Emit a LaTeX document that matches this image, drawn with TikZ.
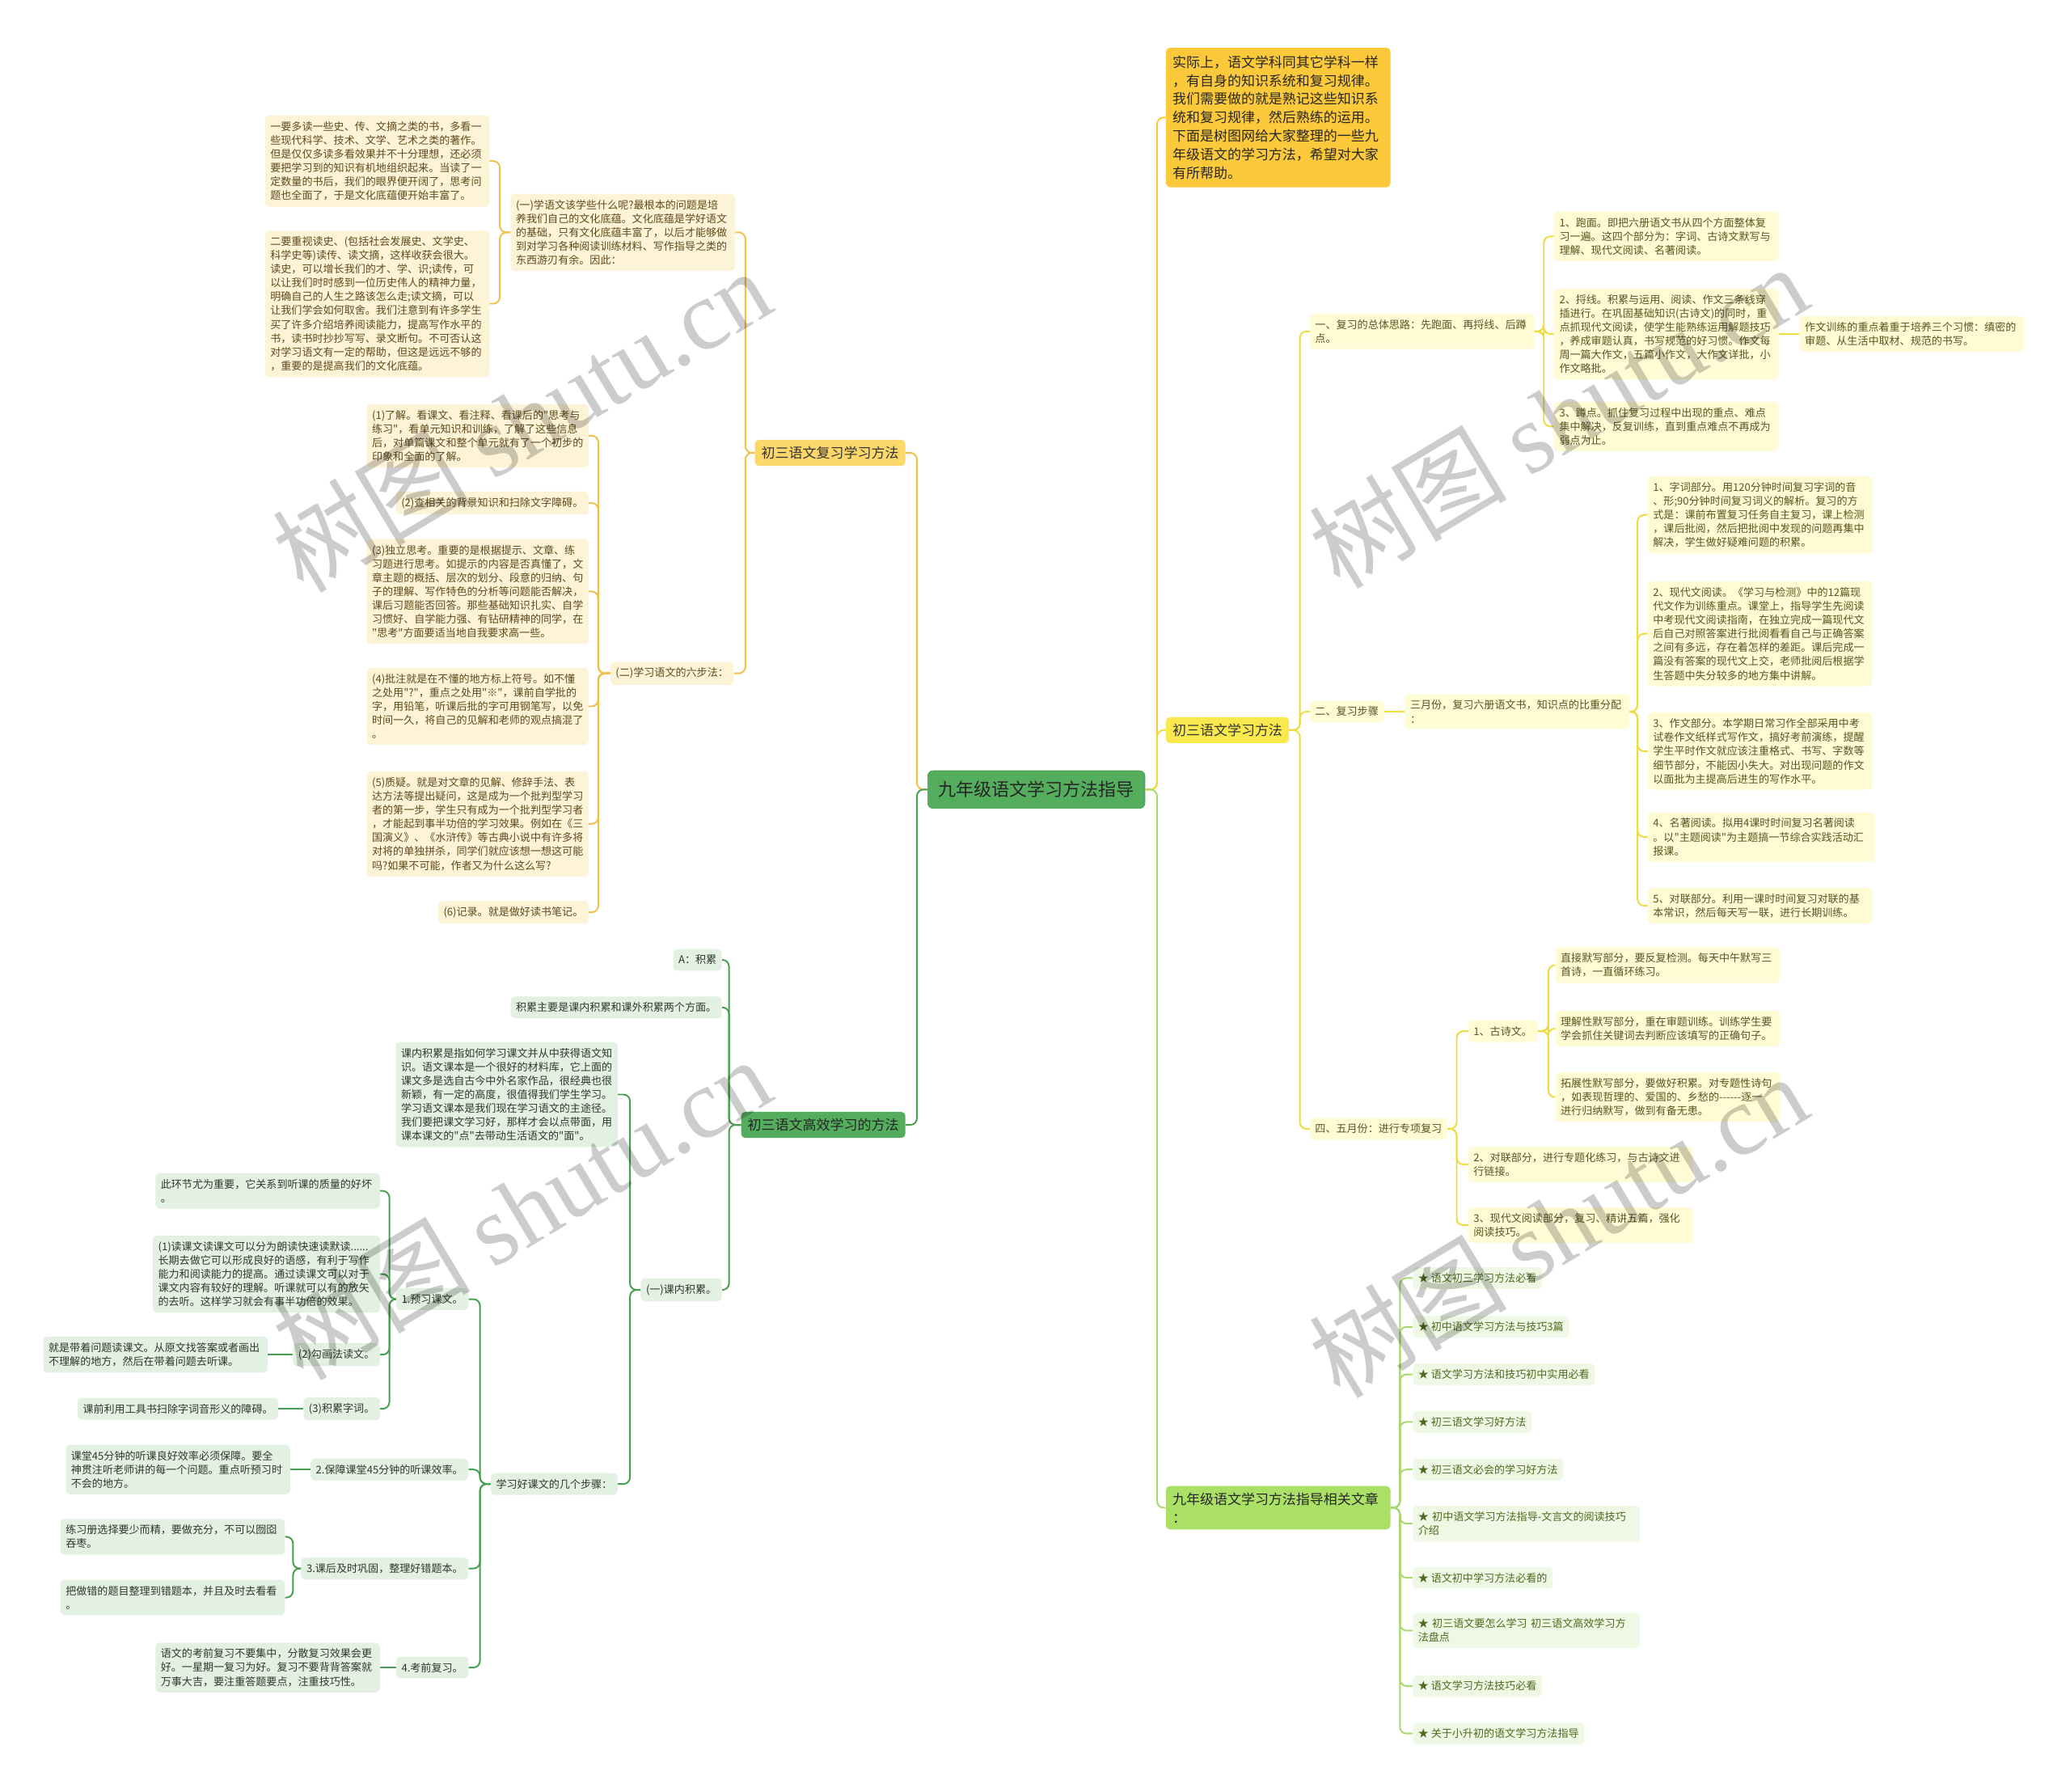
\documentclass[tikz,border=0pt]{standalone}
\usepackage{fontspec}
\setmainfont{Noto Sans CJK SC}[Ligatures=TeXOff]
\newfontfamily\wmser{Liberation Serif}
\definecolor{cGold}{HTML}{F0C04A}
\definecolor{cGoldN}{HTML}{FCD76A}
\definecolor{cCream}{HTML}{FDF3D6}
\definecolor{cBrown}{HTML}{5E4A1C}
\definecolor{cGreen}{HTML}{53AD5D}
\definecolor{cGreenL}{HTML}{479F50}
\definecolor{cMint}{HTML}{E2F1E2}
\definecolor{cDark}{HTML}{2C3A2C}
\definecolor{cYel}{HTML}{F9E84E}
\definecolor{cYelL}{HTML}{EEDC3C}
\definecolor{cLemon}{HTML}{FFFBD4}
\definecolor{cOlive}{HTML}{5B5320}
\definecolor{cOrange}{HTML}{FCC93A}
\definecolor{cLime}{HTML}{A9E065}
\definecolor{cLimeL}{HTML}{A8D870}
\definecolor{cPale}{HTML}{EEF8E4}
\definecolor{cLeaf}{HTML}{4B6A1E}
\newcommand\lkL[4]{\draw[#1] (#2.west) -- ++(-#4,0) |- (#3.east);}
\newcommand\lkR[4]{\draw[#1] (#2.east) -- ++(#4,0) |- (#3.west);}
\tikzset{
  leafbase/.style={rounded corners=3pt, inner xsep=4pt, inner ysep=4.5pt, font=\fontsize{8}{10.5}\selectfont, align=left},
  lyel/.style={leafbase, fill=cCream, text=cBrown},
  ryel/.style={leafbase, fill=cLemon, text=cOlive},
  grn/.style={leafbase, fill=cMint, text=cDark},
  lgr/.style={leafbase, fill=cPale, text=cLeaf},
  lvone/.style={rounded corners=3pt, inner xsep=5pt, inner ysep=5pt, font=\fontsize{10.4}{14}\selectfont, align=left},
  conn/.style={line width=1.2pt, rounded corners=5pt},
  cgold/.style={conn, draw=cGold},
  cgrn/.style={conn, draw=cGreenL},
  cyel/.style={conn, draw=cYelL},
  clime/.style={conn, draw=cLimeL},
  corg/.style={conn, draw=cOrange},
  wm/.style={text=black, text opacity=0.2, font=\fontsize{75}{75}\selectfont, rotate=31}
}
\begin{document}
\begin{tikzpicture}[x=1pt,y=-1pt]
\useasboundingbox[fill=white] (0,0) rectangle (1568,1357);

% ---------- root ----------
\node[rounded corners=4pt, fill=cGreen, draw=cGreenL, text=black!85, inner xsep=8pt, inner ysep=8pt, font=\fontsize{13.5}{16}\selectfont] (root) at (785,598) {九年级语文学习方法指导};

% ---------- left: 初三语文复习学习方法 ----------
\node[lvone, fill=cGoldN, text=black!80, anchor=east] (n1) at (686,343) {初三语文复习学习方法};
\node[lyel, anchor=east, text width=162pt] (a1) at (557,176) {(一)学语文该学些什么呢?最根本的问题是培\\养我们自己的文化底蕴。文化底蕴是学好语文\\的基础，只有文化底蕴丰富了，以后才能够做\\到对学习各种阅读训练材料、写作指导之类的\\东西游刃有余。因此：};
\node[lyel, anchor=east, text width=162pt] (a11) at (371,122) {一要多读一些史、传、文摘之类的书，多看一\\些现代科学、技术、文学、艺术之类的著作。\\但是仅仅多读多看效果并不十分理想，还必须\\要把学习到的知识有机地组织起来。当读了一\\定数量的书后，我们的眼界便开阔了，思考问\\题也全面了，于是文化底蕴便开始丰富了。};
\node[lyel, anchor=east, text width=162pt] (a12) at (371,230) {二要重视读史、(包括社会发展史、文学史、\\科学史等)读传、读文摘，这样收获会很大。\\读史，可以增长我们的才、学、识;读传，可\\以让我们时时感到一位历史伟人的精神力量，\\明确自己的人生之路该怎么走;读文摘，可以\\让我们学会如何取舍。我们注意到有许多学生\\买了许多介绍培养阅读能力，提高写作水平的\\书，读书时抄抄写写、录文断句。不可否认这\\对学习语文有一定的帮助，但这是远远不够的\\，重要的是提高我们的文化底蕴。};
\node[lyel, anchor=east] (a2) at (556,510) {(二)学习语文的六步法：};
\node[lyel, anchor=east, text width=160pt] (s1) at (446,330) {(1)了解。看课文、看注释、看课后的"思考与\\练习"，看单元知识和训练，了解了这些信息\\后，对单篇课文和整个单元就有了一个初步的\\印象和全面的了解。};
\node[lyel, anchor=east] (s2) at (446,381) {(2)查相关的背景知识和扫除文字障碍。};
\node[lyel, anchor=east, text width=160pt] (s3) at (446,448) {(3)独立思考。重要的是根据提示、文章、练\\习题进行思考。如提示的内容是否真懂了，文\\章主题的概括、层次的划分、段意的归纳、句\\子的理解、写作特色的分析等问题能否解决，\\课后习题能否回答。那些基础知识扎实、自学\\习惯好、自学能力强、有钻研精神的同学，在\\"思考"方面要适当地自我要求高一些。};
\node[lyel, anchor=east, text width=160pt] (s4) at (446,535) {(4)批注就是在不懂的地方标上符号。如不懂\\之处用"?"，重点之处用"※"，课前自学批的\\字，用铅笔，听课后批的字可用钢笔写，以免\\时间一久，将自己的见解和老师的观点搞混了\\。};
\node[lyel, anchor=east, text width=160pt] (s5) at (446,624) {(5)质疑。就是对文章的见解、修辞手法、表\\达方法等提出疑问，这是成为一个批判型学习\\者的第一步，学生只有成为一个批判型学习者\\，才能起到事半功倍的学习效果。例如在《三\\国演义》、《水浒传》等古典小说中有许多将\\对将的单独拼杀，同学们就应该想一想这可能\\吗?如果不可能，作者又为什么这么写?};
\node[lyel, anchor=east] (s6) at (446,691) {(6)记录。就是做好读书笔记。};

% ---------- left: 初三语文高效学习的方法 ----------
\node[lvone, fill=cGreen, text=black!85, anchor=east] (n2) at (686,852) {初三语文高效学习的方法};
\node[grn, anchor=east] (g1) at (547,727) {A：积累};
\node[grn, anchor=east] (g2) at (547,763) {积累主要是课内积累和课外积累两个方面。};
\node[grn, anchor=east] (g3) at (547,977) {(一)课内积累。};
\node[grn, anchor=east, text width=160pt] (g31) at (468,829) {课内积累是指如何学习课文并从中获得语文知\\识。语文课本是一个很好的材料库，它上面的\\课文多是选自古今中外名家作品，很经典也很\\新颖，有一定的高度，很值得我们学生学习。\\学习语文课本是我们现在学习语文的主途径。\\我们要把课文学习好，那样才会以点带面，用\\课本课文的"点"去带动生活语文的"面"。};
\node[grn, anchor=east] (g32) at (468,1124) {学习好课文的几个步骤：};
\node[grn, anchor=east] (h1) at (355,984) {1.预习课文。};
\node[grn, anchor=east, text width=162pt] (h11) at (288,902) {此环节尤为重要，它关系到听课的质量的好坏\\。};
\node[grn, anchor=east, text width=164pt] (h12) at (288,965) {(1)读课文读课文可以分为朗读快速读默读......\\长期去做它可以形成良好的语感，有利于写作\\能力和阅读能力的提高。通过读课文可以对于\\课文内容有较好的理解。听课就可以有的放矢\\的去听。这样学习就会有事半功倍的效果。};
\node[grn, anchor=east] (h13) at (288,1026) {(2)勾画法读文。};
\node[grn, anchor=east, text width=162pt] (h131) at (203,1026) {就是带着问题读课文。从原文找答案或者画出\\不理解的地方，然后在带着问题去听课。};
\node[grn, anchor=east] (h14) at (288,1067) {(3)积累字词。};
\node[grn, anchor=east] (h141) at (211,1067) {课前利用工具书扫除字词音形义的障碍。};
\node[grn, anchor=east] (h2) at (355,1113) {2.保障课堂45分钟的听课效率。};
\node[grn, anchor=east, text width=162pt] (h21) at (220,1113) {课堂45分钟的听课良好效率必须保障。要全\\神贯注听老师讲的每一个问题。重点听预习时\\不会的地方。};
\node[grn, anchor=east] (h3) at (355,1188) {3.课后及时巩固，整理好错题本。};
\node[grn, anchor=east, text width=162pt] (h31) at (216,1164) {练习册选择要少而精，要做充分，不可以囫囵\\吞枣。};
\node[grn, anchor=east, text width=162pt] (h32) at (216,1210) {把做错的题目整理到错题本，并且及时去看看\\。};
\node[grn, anchor=east] (h4) at (355,1263) {4.考前复习。};
\node[grn, anchor=east, text width=162pt] (h41) at (288,1263) {语文的考前复习不要集中，分散复习效果会更\\好。一星期一复习为好。复习不要背背答案就\\万事大吉，要注重答题要点，注重技巧性。};

% ---------- right ----------
\node[lvone, fill=cOrange, text=black!85, anchor=west, text width=160pt, inner ysep=6pt] (r0) at (883,89) {实际上，语文学科同其它学科一样\\，有自身的知识系统和复习规律。\\我们需要做的就是熟记这些知识系\\统和复习规律，然后熟练的运用。\\下面是树图网给大家整理的一些九\\年级语文的学习方法，希望对大家\\有所帮助。};
\node[lvone, fill=cYel, text=black!80, anchor=west] (n3) at (883,553) {初三语文学习方法};
\node[ryel, anchor=west, text width=162pt] (b1) at (992,251) {一、复习的总体思路：先跑面、再捋线、后蹲\\点。};
\node[ryel, anchor=west, text width=162pt] (b11) at (1177,179) {1、跑面。即把六册语文书从四个方面整体复\\习一遍。这四个部分为：字词、古诗文默写与\\理解、现代文阅读、名著阅读。};
\node[ryel, anchor=west, text width=162pt] (b12) at (1177,253) {2、捋线。积累与运用、阅读、作文三条线穿\\插进行。在巩固基础知识(古诗文)的同时，重\\点抓现代文阅读，使学生能熟练运用解题技巧\\，养成审题认真，书写规范的好习惯。作文每\\周一篇大作文，五篇小作文，大作文详批，小\\作文略批。};
\node[ryel, anchor=west, text width=162pt] (b121) at (1363,253) {作文训练的重点着重于培养三个习惯：缜密的\\审题、从生活中取材、规范的书写。};
\node[ryel, anchor=west, text width=162pt] (b13) at (1177,323) {3、蹲点。抓住复习过程中出现的重点、难点\\集中解决，反复训练，直到重点难点不再成为\\弱点为止。};
\node[ryel, anchor=west] (b2) at (992,539) {二、复习步骤};
\node[ryel, anchor=west, text width=162pt] (b21) at (1064,539) {三月份，复习六册语文书，知识点的比重分配\\：};
\node[ryel, anchor=west, text width=162pt] (c1) at (1248,390) {1、字词部分。用120分钟时间复习字词的音\\、形;90分钟时间复习词义的解析。复习的方\\式是：课前布置复习任务自主复习，课上检测\\，课后批阅，然后把批阅中发现的问题再集中\\解决，学生做好疑难问题的积累。};
\node[ryel, anchor=west, text width=162pt] (c2) at (1248,480) {2、现代文阅读。《学习与检测》中的12篇现\\代文作为训练重点。课堂上，指导学生先阅读\\中考现代文阅读指南，在独立完成一篇现代文\\后自己对照答案进行批阅看看自己与正确答案\\之间有多远，存在着怎样的差距。课后完成一\\篇没有答案的现代文上交，老师批阅后根据学\\生答题中失分较多的地方集中讲解。};
\node[ryel, anchor=west, text width=162pt] (c3) at (1248,569) {3、作文部分。本学期日常习作全部采用中考\\试卷作文纸样式写作文，搞好考前演练，提醒\\学生平时作文就应该注重格式、书写、字数等\\细节部分，不能因小失大。对出现问题的作文\\以面批为主提高后进生的写作水平。};
\node[ryel, anchor=west, text width=164pt] (c4) at (1248,634) {4、名著阅读。拟用4课时时间复习名著阅读\\。以"主题阅读"为主题搞一节综合实践活动汇\\报课。};
\node[ryel, anchor=west, text width=162pt] (c5) at (1248,686) {5、对联部分。利用一课时时间复习对联的基\\本常识，然后每天写一联，进行长期训练。};
\node[ryel, anchor=west] (b3) at (992,855) {四、五月份：进行专项复习};
\node[ryel, anchor=west] (d1) at (1112,781) {1、古诗文。};
\node[ryel, anchor=west, text width=162pt] (d11) at (1178,731) {直接默写部分，要反复检测。每天中午默写三\\首诗，一直循环练习。};
\node[ryel, anchor=west, text width=162pt] (d12) at (1178,779) {理解性默写部分，重在审题训练。训练学生要\\学会抓住关键词去判断应该填写的正确句子。};
\node[ryel, anchor=west, text width=162pt] (d13) at (1178,831) {拓展性默写部分，要做好积累。对专题性诗句\\，如表现哲理的、爱国的、乡愁的------逐一\\进行归纳默写，做到有备无患。};
\node[ryel, anchor=west, text width=162pt] (d2) at (1112,882) {2、对联部分，进行专题化练习，与古诗文进\\行链接。};
\node[ryel, anchor=west, text width=162pt] (d3) at (1112,928) {3、现代文阅读部分，复习、精讲五篇，强化\\阅读技巧。};

\node[lvone, fill=cLime, text=black!85, anchor=west, text width=160pt] (n4) at (883,1142) {九年级语文学习方法指导相关文章\\：};
\node[lgr, anchor=west] (e1) at (1070,968) {★ 语文初三学习方法必看};
\node[lgr, anchor=west] (e2) at (1070,1005) {★ 初中语文学习方法与技巧3篇};
\node[lgr, anchor=west] (e3) at (1070,1041) {★ 语文学习方法和技巧初中实用必看};
\node[lgr, anchor=west] (e4) at (1070,1077) {★ 初三语文学习好方法};
\node[lgr, anchor=west] (e5) at (1070,1113) {★ 初三语文必会的学习好方法};
\node[lgr, anchor=west, text width=164pt] (e6) at (1070,1154) {★ 初中语文学习方法指导-文言文的阅读技巧\\介绍};
\node[lgr, anchor=west] (e7) at (1070,1195) {★ 语文初中学习方法必看的};
\node[lgr, anchor=west, text width=164pt] (e8) at (1070,1235) {★ 初三语文要怎么学习 初三语文高效学习方\\法盘点};
\node[lgr, anchor=west] (e9) at (1070,1277) {★ 语文学习方法技巧必看};
\node[lgr, anchor=west] (e10) at (1070,1313) {★ 关于小升初的语文学习方法指导};

% ---------- connectors ----------
\lkL{cgold}{root}{n1}{8}
\lkL{cgrn}{root}{n2}{8}
\lkL{cgold}{n1}{a1}{7}
\lkL{cgold}{n1}{a2}{7}
\lkL{cgold}{a1}{a11}{8}
\lkL{cgold}{a1}{a12}{8}
\foreach \c in {s1,s2,s3,s4,s5,s6} {\lkL{cgold}{a2}{\c}{9}}
\foreach \c in {g1,g2,g3} {\lkL{cgrn}{n2}{\c}{9}}
\lkL{cgrn}{g3}{g31}{8}
\lkL{cgrn}{g3}{g32}{8}
\foreach \c in {h1,h2,h3,h4} {\lkL{cgrn}{g32}{\c}{8}}
\foreach \c in {h11,h12,h13,h14} {\lkL{cgrn}{h1}{\c}{5}}
\draw[cgrn] (h13.west) -- (h131.east);
\draw[cgrn] (h14.west) -- (h141.east);
\draw[cgrn] (h2.west) -- (h21.east);
\lkL{cgrn}{h3}{h31}{6}
\lkL{cgrn}{h3}{h32}{6}
\draw[cgrn] (h4.west) -- (h41.east);

\lkR{corg}{root}{r0}{9}
\lkR{cyel}{root}{n3}{9}
\lkR{clime}{root}{n4}{9}
\foreach \c in {b1,b2,b3} {\lkR{cyel}{n3}{\c}{8}}
\foreach \c in {b11,b12,b13} {\lkR{cyel}{b1}{\c}{7}}
\draw[cyel] (b12.east) -- (b121.west);
\draw[cyel] (b2.east) -- (b21.west);
\foreach \c in {c1,c2,c3,c4,c5} {\lkR{cyel}{b21}{\c}{6}}
\foreach \c in {d1,d2,d3} {\lkR{cyel}{b3}{\c}{7}}
\foreach \c in {d11,d12,d13} {\lkR{cyel}{d1}{\c}{8}}
\foreach \c in {e1,e2,e3,e4,e5,e6,e7,e8,e9,e10} {\lkR{clime}{n4}{\c}{7}}

% ---------- watermarks ----------
\node[wm] (w1) at (395,318) {树图 {\wmser shutu.cn}};
\node[wm] (w2) at (395,915) {树图 {\wmser shutu.cn}};
\node[wm] (w3) at (1180,315) {树图 {\wmser shutu.cn}};
\node[wm] (w4) at (1180,928) {树图 {\wmser shutu.cn}};
\end{tikzpicture}
\end{document}
